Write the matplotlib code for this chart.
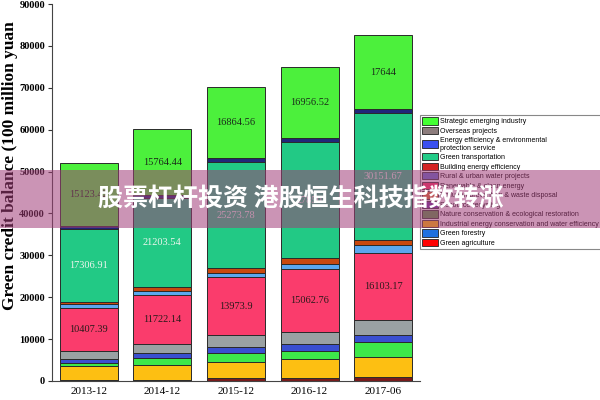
import matplotlib
matplotlib.use("Agg")
import matplotlib.pyplot as plt
from matplotlib.patches import Patch, Rectangle
import numpy as np

categories = ['2013-12', '2014-12', '2015-12', '2016-12', '2017-06']

# stacked segments, bottom -> top (values in 100 million yuan)
agri_dark = [300, 300, 600, 700, 900]
industrial = [3200, 3500, 4000, 4500, 4900]
nature = [800, 1600, 2150, 2000, 3400]
forestry_blue = [1000, 1300, 1430, 1700, 1800]
overseas_gray = [1800, 2200, 2700, 2700, 3500]
renewable = [10407.39, 11722.14, 13973.9, 15062.76, 16103.17]
water = [900, 900, 1000, 1300, 1800]
building = [550, 900, 1100, 1300, 1350]
transport = [17306.91, 21203.54, 25273.78, 27850.0, 30151.67]
service = [650, 700, 1000, 1000, 950]
strategic = [15123.42, 15764.44, 16864.56, 16956.52, 17644]

segments = [agri_dark, industrial, nature, forestry_blue, overseas_gray,
            renewable, water, building, transport, service, strategic]
seg_colors = ['#7a1a1a', '#fdbf12', '#3de84a', '#3a4fd0', '#9aa1a3',
              '#fa3c6c', '#5aa7ee', '#c8480e', '#22c985', '#20267a', '#4cf03c']
labelled = {5: '#2a1a1a', 8: '#eef5ee', 10: '#1a2a1a'}

legend_names = ['Strategic emerging industry',
                'Overseas projects',
                'Energy efficiency & environmental\nprotection service',
                'Green transportation',
                'Building energy efficiency',
                'Rural & urban water projects',
                'Renewable & clean energy',
                'Pollution prevention & waste disposal',
                'Resource recycling',
                'Nature conservation & ecological restoration',
                'Industrial energy conservation and water efficiency',
                'Green forestry',
                'Green agriculture']
legend_colors = ['#44ff33', '#8c7c7c', '#3a50f0', '#22cc88', '#d42424',
                 '#6070d0', '#ff3366', '#e07030', '#7030a0', '#5a9a4a',
                 '#ffc000', '#1e70e0', '#ff0000']

fig = plt.figure(figsize=(6, 4), dpi=100)
ax = fig.add_axes([52/600, 1-381/400, (420-52)/600, (381-4)/400])

x = np.arange(len(categories))
bottom = np.zeros(len(categories))
for i, (vals, col) in enumerate(zip(segments, seg_colors)):
    vals = np.array(vals, dtype=float)
    ax.bar(x, vals, 0.79, bottom=bottom, color=col, edgecolor='#2a2a2a',
           linewidth=0.7, zorder=2)
    if i in labelled:
        for xi, b, v in zip(x, bottom, vals):
            s = ('%.2f' % v).rstrip('0').rstrip('.')
            ax.text(xi, b + v/2, s, ha='center', va='center', fontsize=7.5,
                    family='Liberation Serif', color=labelled[i], zorder=3)
    bottom += vals

ax.set_xlim(-0.5, 4.5)
ax.set_ylim(0, 90000)
ax.set_yticks(np.arange(0, 90001, 10000))
ax.set_xticks(x)
ax.set_xticklabels(categories, family='Liberation Serif', fontsize=8)
for lab in ax.get_yticklabels():
    lab.set_family('Liberation Serif')
    lab.set_fontsize(7.5)
    lab.set_fontweight('bold')
ax.tick_params(axis='x', direction='in', length=3, color='#333333', pad=4)
ax.tick_params(axis='y', direction='out', length=3, color='#333333', pad=2)
for sp in ['top', 'right']:
    ax.spines[sp].set_visible(False)
for sp in ['left', 'bottom']:
    ax.spines[sp].set_color('#444444')
    ax.spines[sp].set_linewidth(0.8)

fig.text(10/600, 1-166/400, 'Green credit balance (100 million yuan',
         rotation=90, ha='center', va='center', fontsize=12.5,
         fontweight='bold', family='Liberation Serif')

handles = [Patch(facecolor=c, edgecolor='#222222', linewidth=0.6)
           for c in legend_colors]
leg = fig.legend(handles, legend_names, loc='upper left',
                 bbox_to_anchor=(420/600, 1-115/400),
                 prop={'family': 'Liberation Sans', 'size': 5},
                 handlelength=2.3, handleheight=1.25, handletextpad=0.3,
                 labelspacing=0.22, borderpad=0.35, borderaxespad=0,
                 fancybox=False, framealpha=1, edgecolor='#888888')
leg.get_frame().set_linewidth(0.8)

# overlay banner
fig.patches.append(Rectangle((0, 1-228/400), 1, 58/400, transform=fig.transFigure,
                             facecolor=(0.63, 0.24, 0.47), alpha=0.55,
                             edgecolor='none', zorder=10))
fig.text(301/600, 1-200/400, '股票杠杆投资 港股恒生科技指数转涨', ha='center',
         va='center', fontsize=18, fontweight='bold', color='white',
         family=['Noto Sans CJK SC', 'DejaVu Sans'], zorder=11)

fig.savefig('out.png', dpi=100)
